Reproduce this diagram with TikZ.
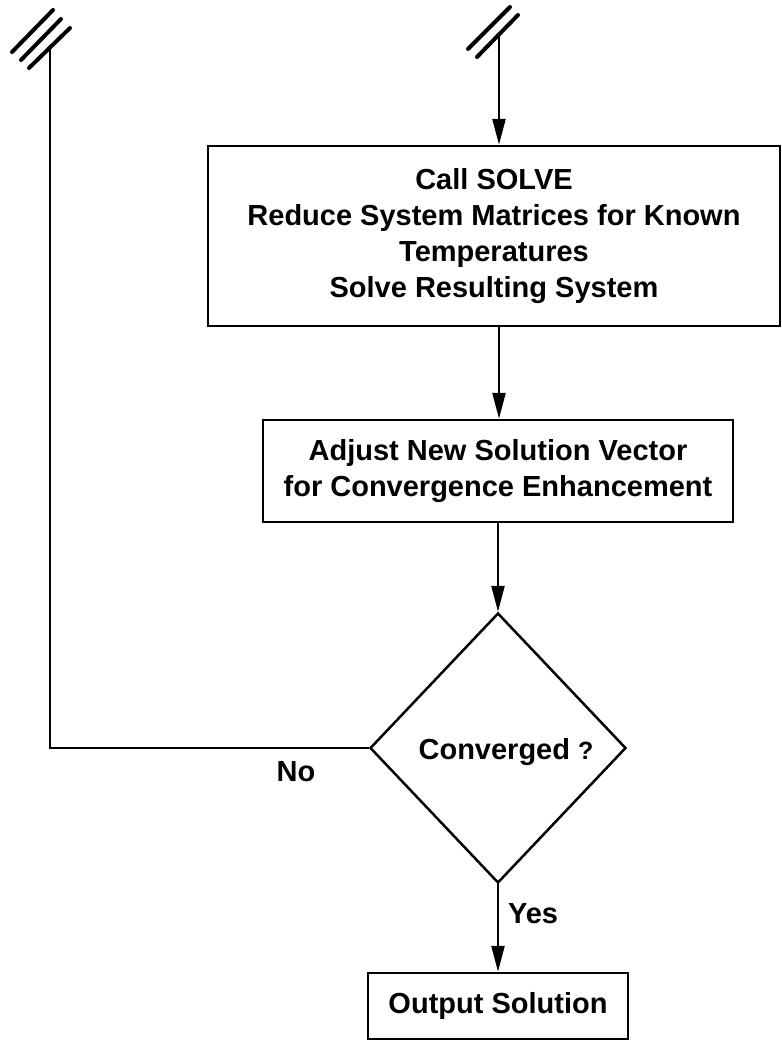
\documentclass[tikz,border=0pt]{standalone}
\usepackage{fontspec}
\setmainfont{Liberation Sans}
\usetikzlibrary{arrows.meta,shapes.geometric}
\begin{document}
\begin{tikzpicture}[x=1pt,y=-1pt,
  txt/.style={font=\fontsize{29}{36}\selectfont\bfseries},
  box/.style={txt,draw,line width=2.5pt,align=center,inner sep=0pt},
  dec/.style={txt,draw,diamond,line width=2.5pt,inner sep=0pt},
  conn/.style={line width=2.5pt},
  arr/.style={conn,-{Triangle[length=26pt,width=13pt]}},
  brk/.style={line width=4pt,line cap=round},
  lbl/.style={txt}
]
\useasboundingbox (0,0) rectangle (782,1042);
% nodes
\node[box,minimum width=572pt,minimum height=180pt] (b1) at (494,236)
  {Call SOLVE\\Reduce System Matrices for Known\\Temperatures\\Solve Resulting System};
\node[box,minimum width=470pt,minimum height=102pt] (b2) at (498,471)
  {Adjust New Solution Vector\\for Convergence Enhancement};
\node[dec,minimum width=256pt,minimum height=270pt] (d) at (498,748) {};
\node[txt,anchor=center] (dt) at (506,752) {Converged {\fontsize{25}{30}\selectfont ?}};
\node[box,minimum width=260pt,minimum height=66pt] (o) at (498,1006) {Output Solution};
\node[lbl] (no) at (296,772) {No};
\node[lbl] (yes) at (533,914) {Yes};
% coordinates
\coordinate (ltop) at (50,48);
\coordinate (ctop) at (499,33);
% break marks
\draw[brk] (12,52) -- (53,10);
\draw[brk] (21,60) -- (61,19);
\draw[brk] (29,68) -- (70,28);
\draw[brk] (468,49) -- (510,7);
\draw[brk] (477,57) -- (518,15);
% connectors
\draw[arr] (ctop) -- (ctop |- b1.north);
\draw[arr] (ctop |- b1.south) -- (ctop |- b2.north);
\draw[arr] (b2.south) -- (d.north);
\draw[arr] (d.south) -- (o.north);
\draw[conn] (d.west) -- (ltop |- d.west) -- (ltop);
\end{tikzpicture}
\end{document}
